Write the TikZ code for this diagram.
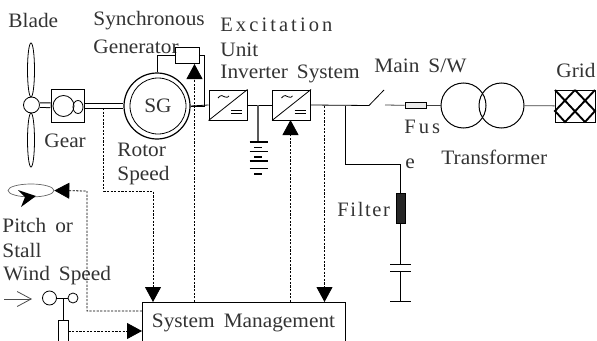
\documentclass[tikz,border=0pt]{standalone}
\usepackage{fontspec}
\setmainfont[WordSpace=1.7,FakeStretch=1.04]{Liberation Serif}
\newfontfamily\spaced[LetterSpace=15]{Liberation Serif}
\newfontfamily\looser[LetterSpace=8]{Liberation Serif}
\usetikzlibrary{arrows.meta,shapes.geometric}
\newcommand{\lblsize}{\fontsize{20.5}{22}\selectfont}

\begin{document}
\begin{tikzpicture}[x=1pt,y=-1pt,line width=0.8pt,
    lbl/.style={anchor=west,inner sep=0pt,font=\lblsize,text=black!80},
    spaced/.style={lbl,font=\lblsize\spaced},
    ring/.style={circle,draw,inner sep=0pt},
    conv/.style={rectangle,draw,line width=1pt,minimum width=38pt,minimum height=30pt,inner sep=0pt},
    blade/.style={ellipse,draw,inner sep=0pt,minimum width=7pt,minimum height=54pt},
    dashline/.style={dash pattern=on 2.2pt off 1.4pt,line width=0.8pt},
    tip/.style={-{Triangle[length=15pt,width=16pt]}},
    shaft/.style={double,double distance=3.6pt,line width=1pt}
    ]
    \useasboundingbox (0,0) rectangle (597,340);
    \clip (0,0) rectangle (597,340);

    \node [lbl] (bladetxt) at (8, 20) {Blade};
    \node [lbl] (syntxt) at (93, 21) {Synchronous};
    \node [lbl] (gentxt) at (93, 47) {Generator};
    \node [spaced] (exctxt) at (220, 25) {Excitation};
    \node [lbl] (unittxt) at (220, 50) {Unit};
    \node [lbl] (invtxt) at (220, 74) {Inverter System};
    \node [lbl] (maintxt) at (374, 66) {Main S/W};
    \node [lbl] (gridtxt) at (556, 70) {Grid};
    \node [lbl] (geartxt) at (44, 141) {Gear};
    \node [lbl] (rotortxt) at (117, 150) {Rotor};
    \node [lbl] (speedtxt) at (117, 176) {Speed};
    \node [spaced] (fustxt) at (404, 127) {Fus};
    \node [lbl] (etxt) at (405, 164) {e};
    \node [lbl] (trtxt) at (441, 157) {Transformer};
    \node [lbl,font=\lblsize\looser] (filtxt) at (337, 209) {Filter};
    \node [lbl] (pitchtxt) at (2, 225) {Pitch or};
    \node [lbl] (stalltxt) at (2, 250) {Stall};
    \node [lbl] (windtxt) at (3, 276) {Wind Speed};

    % turbine
    \node [ring,minimum size=16pt] (hub) at (31.5, 105) {};
    \node [blade] (bladeup) at (31, 70) {};
    \node [blade] (bladedn) at (31, 140) {};
    \node [rectangle,draw,line width=1pt,minimum width=33pt,minimum height=33pt] (gear) at (67.5, 105.5) {};
    \node [ring,minimum size=21pt] (gearbig) at (63.5, 106) {};
    \node [ellipse,draw,inner sep=0pt,minimum width=10pt,minimum height=13pt] (gearsmall) at (78, 107) {};
    \node [ring,line width=1.2pt,minimum size=66pt] (sgout) at (157, 106) {};
    \node [ring,minimum size=56pt,font=\lblsize,text=black!80] (sg) at (158, 106) {SG};
    \node [rectangle,draw,minimum width=24pt,minimum height=16pt] (exciter) at (187, 55) {};
    \draw [shaft] (hub) -- (gear);
    \draw [shaft] (gear.east) ++(0,0.5) -- (sgout.west);

    % power path
    \node [conv] (inv1) at (228, 105) {};
    \node [conv] (inv2) at (291.5, 105) {};
    \foreach \n in {inv1,inv2} {
        \draw (\n.south west) -- (\n.north east);
        \draw [shift={(\n.center)}] (-10,-7) .. controls (-7,-11) and (-5,-9) .. (-3,-8) .. controls (-1,-7) and (0,-8) .. (1,-9);
        \draw [shift={(\n.center)}] (3,5) -- (14,5) (3,8.5) -- (14,8.5);
    }
    \coordinate (batt) at (258, 142);
    \coordinate (filtertop) at (400.5, 164);
    \coordinate (swa) at (369, 105.5);
    \coordinate (swb) at (384, 90);
    \coordinate (swc) at (385, 105);
    \draw (sgout.east) -- (inv1.west);
    \draw (inv1.east) -- (inv2.west);
    \draw [line width=1.3pt,black!65] (258, 105) -- (batt);
    \foreach \y in {142,151.7,161,168.5} \draw [line width=1.2pt] (249.5,\y) -- (267.5,\y);
    \foreach \y in {147.5,156.7,174} \draw [line width=1.6pt] (254,\y) -- (262,\y);
    \draw (inv2.east) -- (swa) -- (swb);

    \node [rectangle,draw,line width=1pt,fill=black!8,minimum width=21pt,minimum height=6pt,inner sep=0pt] (fuse) at (415.5, 105.5) {};
    \node [ring,line width=1pt,minimum size=45pt] (tr1) at (463.5, 105.5) {};
    \node [ring,line width=1pt,minimum size=45pt] (tr2) at (501.5, 105.5) {};
    \node [rectangle,draw,minimum width=40pt,minimum height=32pt,inner sep=0pt] (grid) at (575, 106) {};
    \draw [black!75] (swc) -- (fuse);
    \draw [black!75] (fuse) -- (tr1);
    \draw [black!75] (tr2) -- (grid);
    \draw [line width=1.9pt] (555,90) -- (585,122) (575,90) -- (595,111) -- (585,122)
        (595,90) -- (565,122) -- (555,111) -- (575,90);

    % filter
    \node [rectangle,draw,fill=black!85,minimum width=9pt,minimum height=30pt,inner sep=0pt] (filter) at (400.5, 208) {};
    \coordinate (capa) at (400.5, 264);
    \coordinate (capb) at (400.5, 271);
    \coordinate (capc) at (400.5, 301);
    \draw (345, 105.5) |- (filtertop) -- (filter);
    \draw (filter) -- (capa);
    \draw (capb) -- (capc);
    \foreach \n in {capa,capb,capc} \draw ([xshift=-10.5pt]\n) -- ([xshift=10.5pt]\n);

    % exciter wires
    \draw (sgout.north) |- (exciter.west);
    \draw (exciter.east) -- ++(5,0) |- (sgout.east);

    % management
    \node [rectangle,draw,line width=1pt,minimum width=203pt,minimum height=41pt,inner sep=0pt,font=\lblsize,text=black!80] (sys) at (243.5, 323) {System Management};
    \coordinate (shafttap) at (103.5, 108);
    \coordinate (sysa) at (153, 302);
    \coordinate (sysb) at (324.5, 302);
    \coordinate (sysc) at (194.5, 302);
    \coordinate (sysd) at (290.5, 302);
    \coordinate (exca) at (194.5, 64);
    \coordinate (invb) at (290.5, 120);
    \coordinate (invc) at (324.5, 106);
    \draw [dashline] (shafttap) |- (153, 191) -- (153, 290);
    \draw [dashline,tip] (153, 285) -- (sysa);
    \draw [dashline,tip] (sysc) -- (exca);
    \draw [dashline,tip] (sysd) -- (invb);
    \draw [dashline,tip] (invc) -- (sysb);

    % pitch
    \node [ellipse,draw=black!60,line width=0.7pt,minimum width=46pt,minimum height=13pt,inner sep=0pt] (pitch) at (31, 190.5) {};
    \fill (36,196) -- (18,190) -- (25,197) -- (21,207) -- cycle;
    \coordinate (pitchleft) at (142, 311);
    \draw [dashline,tip] (pitchleft) -| (87, 191) -- (pitch.east);

    % wind sensor
    \coordinate (windfrom) at (4, 299);
    \coordinate (windto) at (32, 299);
    \node [ring,minimum size=14pt] (cupa) at (49.5, 298) {};
    \node [ring,minimum size=10pt] (cupb) at (73, 298) {};
    \node [rectangle,draw,minimum width=10pt,minimum height=28pt,inner sep=0pt] (mast) at (63.5, 334) {};
    \coordinate (mastout) at (68.5, 331);
    \coordinate (sysleft) at (142, 331);
    \draw [black!70,-{Straight Barb[length=14pt,width=15pt]}] (windfrom) -- (windto);
    \draw (cupa) -- (cupb);
    \draw (63.5, 298) -- (mast.north);
    \draw [dashline,tip] (mastout) -- (sysleft);
\end{tikzpicture}
\end{document}
